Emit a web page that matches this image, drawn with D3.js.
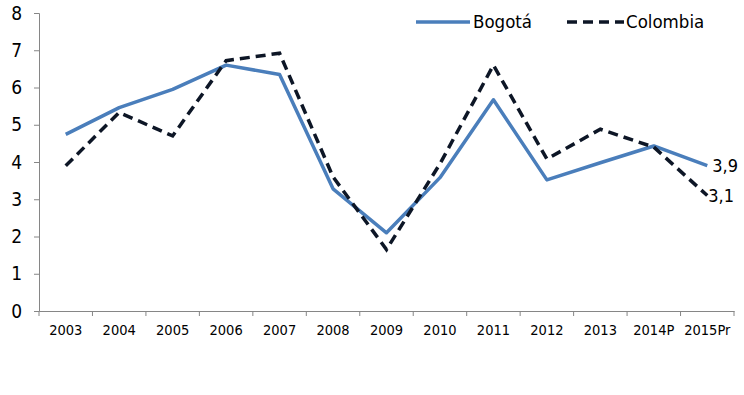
<!DOCTYPE html>
<html lang="es">
<head>
  <meta charset="utf-8">
  <title>Bogotá vs Colombia</title>
  <script src="https://d3js.org/d3.v7.min.js"></script>
  <style>
    body { margin: 0; background: #fff; }
    svg text { font-family: "DejaVu Sans Condensed", "Liberation Sans Narrow", "Liberation Sans", sans-serif; fill: #000; }
  </style>
</head>
<body>
  <div id="chart"></div>
  <script>
    // datos
    var years = ["2003", "2004", "2005", "2006", "2007", "2008", "2009", "2010", "2011", "2012", "2013", "2014P", "2015Pr"];
    var bogota = [4.74, 5.46, 5.95, 6.6, 6.35, 3.28, 2.1, 3.58, 5.67, 3.52, 3.98, 4.43, 3.9];
    var colombia = [3.9, 5.33, 4.7, 6.72, 6.92, 3.6, 1.65, 3.95, 6.6, 4.08, 4.88, 4.4, 3.1];
    var yTicks = [0, 1, 2, 3, 4, 5, 6, 7, 8];
    var endLabels = ["3,9", "3,1"];

    var width = 744, height = 395;
    var margin = { top: 13, right: 10, bottom: 84, left: 39 };

    var svg = d3.select("#chart").append("svg")
      .attr("width", width)
      .attr("height", height);

    var x = d3.scaleBand()
      .domain(years)
      .range([margin.left, 734]);

    var y = d3.scaleLinear()
      .domain([0, 8])
      .range([311, margin.top]);

    // eje y
    var yAxis = svg.append("g")
      .attr("transform", "translate(" + margin.left + ",0)")
      .call(d3.axisLeft(y).tickValues(yTicks).tickSize(5).tickPadding(12));
    yAxis.selectAll("path, line").attr("stroke", "#868686");
    yAxis.selectAll("text").style("font-size", "19px");

    // eje x
    var xAxis = svg.append("g")
      .attr("transform", "translate(0,311)")
      .call(d3.axisBottom(x).tickSize(0).tickPadding(14));
    xAxis.select("path").attr("stroke", "#868686");
    xAxis.selectAll("text").style("font-size", "14.5px");
    // marcas entre categorias
    var bounds = years.map(function (d) { return x(d); }).concat([x.range()[1]]);
    xAxis.selectAll(".sep")
      .data(bounds)
      .enter()
      .append("line")
      .attr("x1", function (d) { return d; })
      .attr("x2", function (d) { return d; })
      .attr("y1", 0)
      .attr("y2", 5)
      .attr("stroke", "#868686");

    var cx = function (d, i) { return x(years[i]) + x.bandwidth() / 2; };
    var line = d3.line()
      .x(cx)
      .y(function (d) { return y(d); });

    svg.append("path")
      .datum(bogota)
      .attr("d", line)
      .attr("fill", "none")
      .attr("stroke", "#4a7ebb")
      .attr("stroke-width", 3.5)
      .attr("stroke-linejoin", "round");

    svg.append("path")
      .datum(colombia)
      .attr("d", line)
      .attr("fill", "none")
      .attr("stroke", "#0d1626")
      .attr("stroke-width", 3.5)
      .attr("stroke-dasharray", "10,6");

    // etiquetas finales
    var last = years.length - 1;
    svg.append("text")
      .attr("x", cx(null, last) + 5)
      .attr("y", y(bogota[last]) + 1)
      .attr("dominant-baseline", "middle")
      .style("font-size", "18px")
      .text(endLabels[0]);
    svg.append("text")
      .attr("x", cx(null, last) + 1)
      .attr("y", y(colombia[last]) + 1)
      .attr("dominant-baseline", "middle")
      .style("font-size", "18px")
      .text(endLabels[1]);

    // leyenda
    var legend = svg.append("g");
    legend.append("line")
      .attr("x1", 416).attr("x2", 470).attr("y1", 22).attr("y2", 22)
      .attr("stroke", "#4a7ebb").attr("stroke-width", 3.5);
    legend.append("text")
      .attr("x", 473).attr("y", 23)
      .attr("dominant-baseline", "middle")
      .style("font-size", "18.5px")
      .text("Bogotá");
    legend.append("line")
      .attr("x1", 567).attr("x2", 624).attr("y1", 22).attr("y2", 22)
      .attr("stroke", "#0d1626").attr("stroke-width", 3.5)
      .attr("stroke-dasharray", "10,6");
    legend.append("text")
      .attr("x", 626).attr("y", 23)
      .attr("dominant-baseline", "middle")
      .style("font-size", "18.5px")
      .text("Colombia");
  </script>
</body>
</html>
